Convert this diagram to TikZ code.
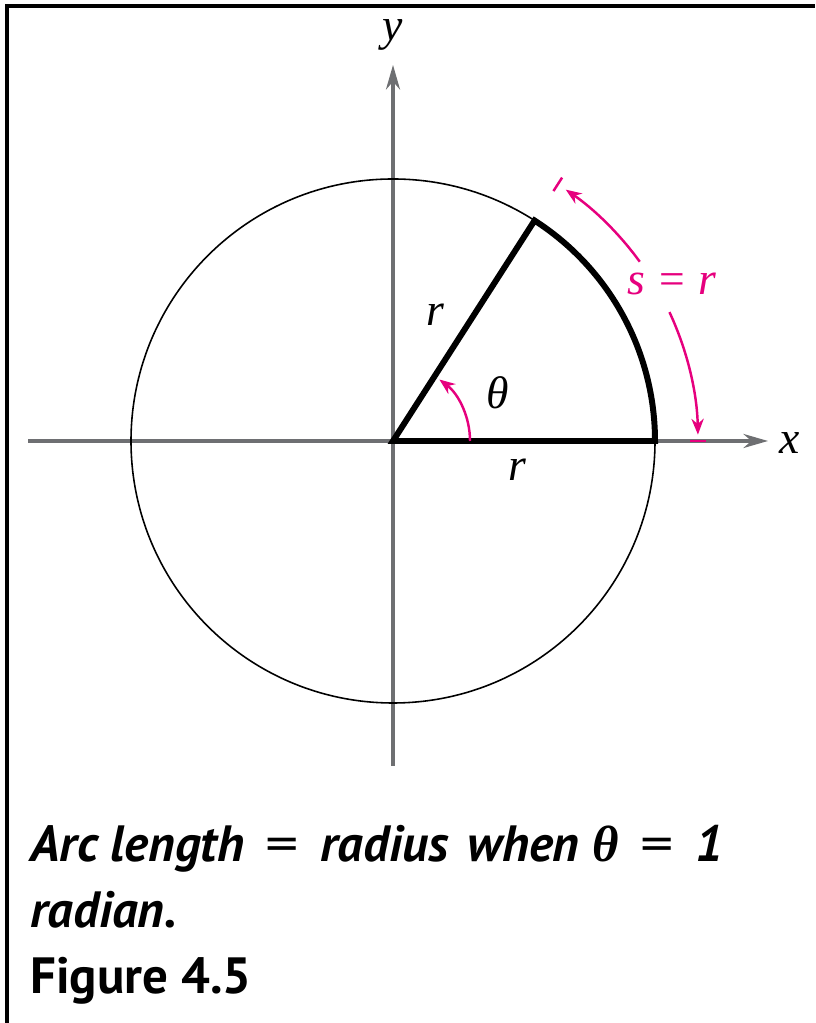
\documentclass[tikz,border=0pt]{standalone}
\usepackage{fontspec}
\usepackage{graphicx}
\setmainfont{Liberation Serif}
\newfontfamily\capfont{PT Sans}
\newfontfamily\thetafont{Liberation Serif}
\usetikzlibrary{arrows.meta,calc}
\definecolor{mag}{RGB}{230,0,126}
\definecolor{axgray}{RGB}{110,111,114}
\tikzset{
  axisline/.style={draw=axgray, line width=1.8pt, -{Stealth[length=14pt,width=8pt]}},
  heavy/.style={draw=black, line width=3.4pt, line join=miter},
  circline/.style={draw=black, line width=0.9pt},
  magarrow/.style={draw=mag, line width=1.4pt, -{Stealth[length=9pt,width=7pt]}},
  magtick/.style={draw=mag, line width=1.4pt},
  lbl/.style={font=\fontsize{26}{30}\selectfont\itshape, inner sep=0pt},
  maglbl/.style={lbl, text=mag},
  captxt/.style={anchor=base west, inner sep=0pt},
  frameline/.style={draw=black, line width=2pt}
}
\newcommand{\capeq}{\hspace{0.42em}{\mdseries\upshape\scalebox{1.3}[1]{=}}\hspace{0.42em}}
\begin{document}
\begin{tikzpicture}[x=0.02cm,y=0.02cm]
\useasboundingbox (0,0) rectangle (815,1023);
% frame
\coordinate (f1) at (7,0);
\coordinate (f2) at (7,1017);
\coordinate (f3) at (815,1017);
\draw[frameline] (f1) -- (f2) -- (f3);
% origin and axes ends
\coordinate (O) at (393,582);
\coordinate (xl) at (28,582);
\coordinate (xr) at (768,582);
\coordinate (yb) at (393,257);
\coordinate (yt) at (393,958);
\draw[axisline] (xl) -- (xr);
\draw[axisline] (yb) -- (yt);
\node[lbl] (xlab) at (790,580) {x};
\node[lbl] (ylab) at (393,988) {y};
% circle
\draw[circline] (O) circle (262);
% sector
\coordinate (A) at ($(O)+(262,0)$);
\draw[heavy] (O) -- (A) arc[start angle=0, end angle=57.2958, radius=262] -- cycle;
% theta arrow
\coordinate (t0) at ($(O)+(77,0)$);
\draw[magarrow] (t0) arc[start angle=0, end angle=53, radius=77];
% s arrows
\coordinate (u0) at ($(O)+(36:305)$);
\draw[magarrow] (u0) arc[start angle=36, end angle=55.5, radius=305];
\coordinate (l0) at ($(O)+(25:305)$);
\draw[magarrow] (l0) arc[start angle=25, end angle=1.2, radius=305];
\coordinate (ut1) at ($(O)+(57.3:297)$);
\coordinate (ut2) at ($(O)+(57.3:313)$);
\draw[magtick] (ut1) -- (ut2);
\coordinate (lt1) at ($(O)+(297,0)$);
\coordinate (lt2) at ($(O)+(313,0)$);
\draw[magtick] (lt1) -- (lt2);
% labels
\node[maglbl] (slab) at (672,739) {s\hspace{0.25em}=\hspace{0.25em}r};
\node[lbl] (r1) at (435,708) {r};
\node[lbl] (r2) at (517,553) {r};
\node[lbl] (th) at (498,630) {θ};
% caption
\node[captxt, font=\fontsize{29}{34}\selectfont\capfont\bfseries\itshape] (c1) at (30,161)
  {Arc length\capeq radius\hspace{0.38em}when {\thetafont\bfseries\itshape θ}\capeq 1};
\node[captxt, font=\fontsize{29}{34}\selectfont\capfont\bfseries\itshape] (c2) at (30,95) {radian.};
\node[captxt, font=\fontsize{29}{34}\selectfont\capfont\bfseries] (c3) at (30,30) {Figure 4.5};
\end{tikzpicture}
\end{document}
